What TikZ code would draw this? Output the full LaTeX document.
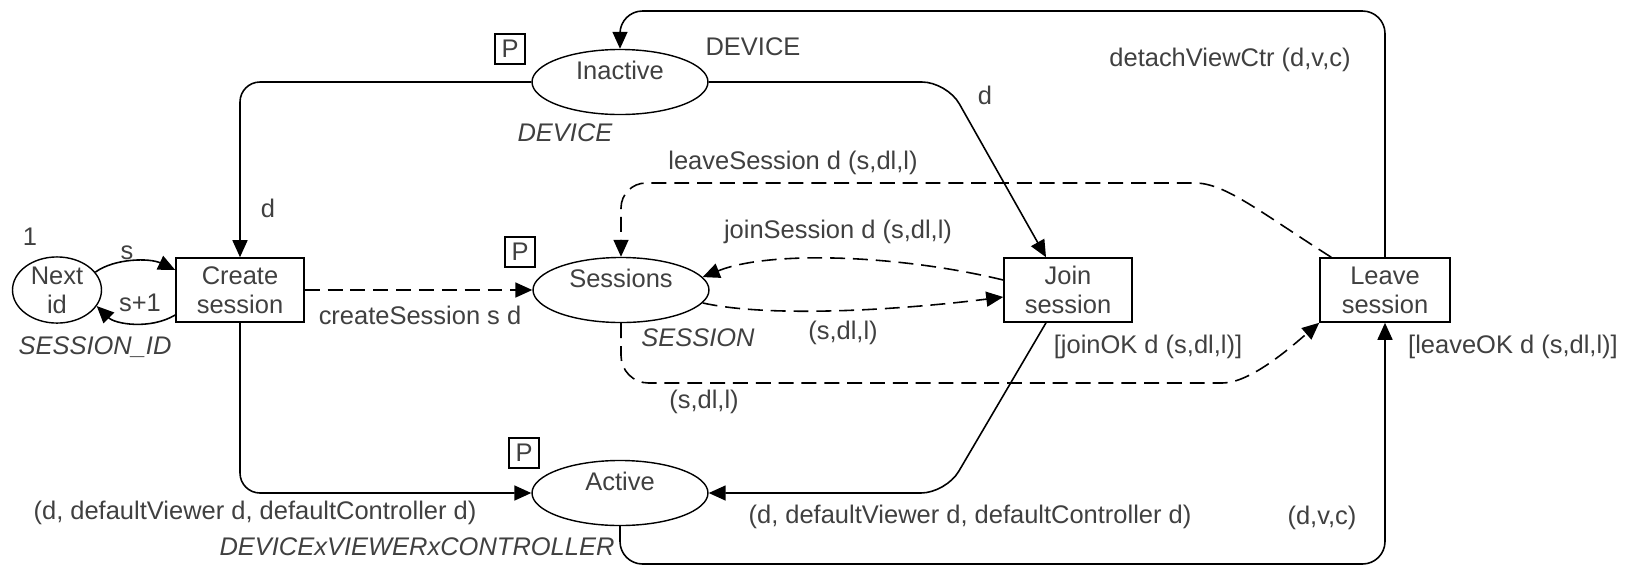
\documentclass[tikz,border=0pt]{standalone}
\usepackage{fontspec}
\setmainfont{Liberation Sans}
\usepackage{tikz}
\usetikzlibrary{arrows.meta,shapes.geometric}
\def\inscr#1#2#3{\node [lab] (#1) at (#2) {#3}}
\def\cset#1#2#3{\node [lab,font=\fontsize{14.5}{16.5}\selectfont\itshape] (#1) at (#2) {#3}}
\tikzstyle{pl}=[ellipse,draw,line width=0.8pt,minimum width=3.52cm,minimum height=1.3cm,inner sep=0pt,align=center,text=black!75]
\tikzstyle{plup}=[pl,text height=0.4cm,text depth=0.52cm]
\tikzstyle{tr}=[rectangle,draw,line width=0.9pt,minimum width=2.56cm,minimum height=1.28cm,inner sep=0pt,align=center,text=black!75]
\tikzstyle{port}=[rectangle,draw,line width=0.8pt,minimum size=0.6cm,inner sep=0pt,text=black!75]
\tikzstyle{lab}=[inner sep=0pt,text=black!75]
\tikzstyle{flow}=[-{Triangle[length=0.34cm,width=0.3cm]},line width=0.9pt]
\tikzstyle{dflow}=[flow,dash pattern=on 8.5pt off 4.5pt]

\begin{document}
\begin{tikzpicture}[x=0.02cm,y=-0.02cm,font=\fontsize{14.5}{16.5}\selectfont]
  \useasboundingbox (0,0) rectangle (1627,566);
  % places
  \node[pl,minimum width=1.78cm] (next) at (57,290) {Next\\id};
  \node[plup] (inactive) at (620,82) {Inactive};
  \node[plup] (sessions) at (621,290) {Sessions};
  \node[plup] (active) at (620,493) {Active};
  \node[port] (pInactive) at (510,49) {P};
  \node[port] (pSessions) at (520,252) {P};
  \node[port] (pActive) at (524,453) {P};
  % transitions
  \node[tr] (create) at (240,290) {Create\\session};
  \node[tr] (join) at (1068,290) {Join\\session};
  \node[tr,minimum width=2.6cm] (leave) at (1385,290) {Leave\\session};
  % colour sets and markings
  \cset{tNext}{95,347}{SESSION\_ID};
  \cset{tInactive}{565,133}{DEVICE};
  \cset{tSessions}{698,338}{SESSION};
  \cset{tActive}{417,547}{DEVICExVIEWERxCONTROLLER};
  \inscr{mNext}{30,237}{1};
  \inscr{mInactive}{753,47}{DEVICE};

  % arcs
  \draw[flow] (next.25) .. controls (115,258) and (150,258) .. ([yshift=0.4cm]create.west);
  \draw[flow] ([yshift=-0.5cm]create.west) .. controls (150,330) and (115,324) .. (next.-22);
  \draw[flow,rounded corners=0.4cm] (inactive.west) -| (create.north);
  \draw[flow,rounded corners=0.5cm] (inactive.east) -- (947,82) -- ([xshift=-0.44cm]join.north);
  \draw[dflow] (create.east) -- (sessions.west);
  \draw[flow,rounded corners=0.4cm] (create.south) |- (active.west);
  \draw[flow,rounded corners=0.5cm] ([xshift=-0.44cm]join.south) -- (946,493) -- (active.east);
  \draw[dflow] ([yshift=0.2cm]join.west) .. controls (900,255) and (770,250) .. (sessions.9);
  \draw[dflow] (sessions.-9) .. controls (770,318) and (900,310) .. ([yshift=-0.14cm]join.west);
  \coordinate (lsTurn) at (1170,183);
  \draw[dflow,rounded corners=0.5cm] ([xshift=0.24cm]leave.north west) .. controls (1260,212) and (1225,183) .. (lsTurn) -- (lsTurn -| sessions.north) -- (sessions.north);
  \coordinate (slTurn) at (1195,383);
  \draw[dflow,rounded corners=0.55cm] (sessions.south) -- (sessions.south |- slTurn) -- (slTurn) .. controls (1250,383) and (1290,348) .. (leave.south west);
  \coordinate (ceil) at (0,11);
  \coordinate (floor) at (0,564);
  \draw[flow,rounded corners=0.45cm] (leave.north) -- (leave.north |- ceil) -- (inactive.north |- ceil) -- (inactive.north);
  \draw[flow,rounded corners=0.45cm] (active.south) -- (active.south |- floor) -- (leave.south |- floor) -- (leave.south);

  % arc inscriptions
  \inscr{lS}{127,253}{s};
  \inscr{lS1}{140,303}{s+1};
  \inscr{lD1}{268,208}{d};
  \inscr{lD2}{985,95}{d};
  \inscr{lCreate}{420,315}{createSession s d};
  \inscr{lJoin}{838,232}{joinSession d (s,dl,l)};
  \inscr{lBack}{843,333}{(s,dl,l)};
  \inscr{lLeave}{793,163}{leaveSession d (s,dl,l)};
  \inscr{lOut}{704,402}{(s,dl,l)};
  \inscr{gJoin}{1148,347}{[joinOK d (s,dl,l)]};
  \inscr{gLeave}{1513,347}{[leaveOK d (s,dl,l)]};
  \inscr{lDetach}{1230,60}{detachViewCtr (d,v,c)};
  \inscr{lDef1}{255,513}{(d, defaultViewer d, defaultController d)};
  \inscr{lDef2}{970,517}{(d, defaultViewer d, defaultController d)};
  \inscr{lDvc}{1322,518}{(d,v,c)};
\end{tikzpicture}
\end{document}
